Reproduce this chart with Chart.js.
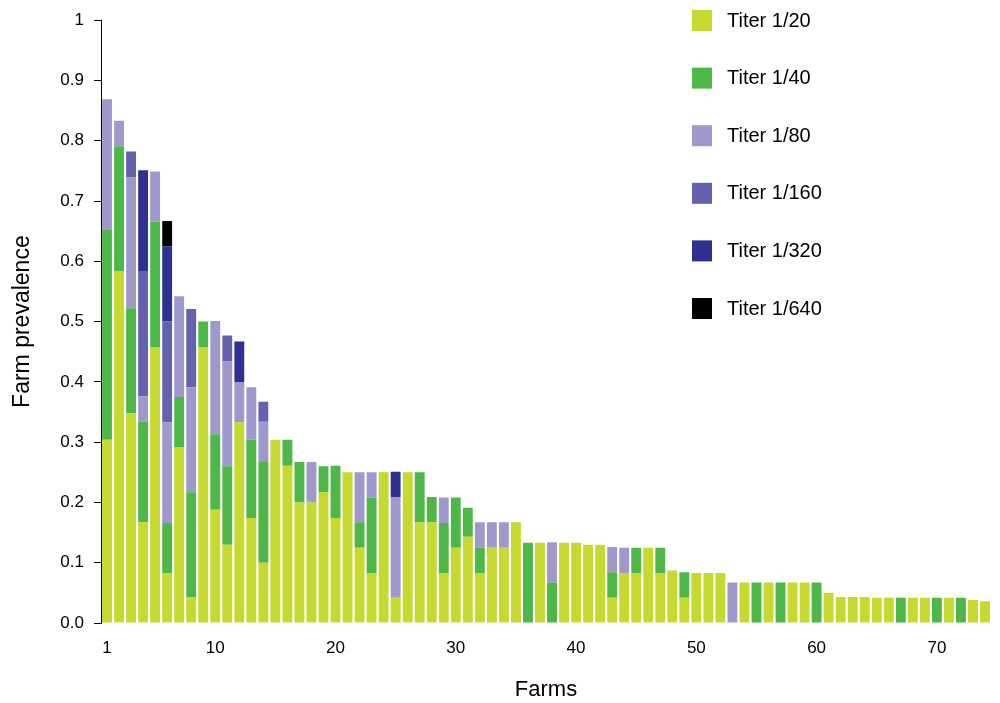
<!DOCTYPE html>
<html>
<head>
<meta charset="utf-8">
<script src="https://cdn.jsdelivr.net/npm/chart.js@4.4.1/dist/chart.umd.min.js"></script>
<style>
  body { margin: 0; background: #fff; }
  canvas { display: block; }
</style>
</head>
<body>
<canvas id="prevalenceChart" width="1000" height="703"></canvas>
<script>
// Farms 1..74
const farms = Array.from({ length: 74 }, (_, i) => String(i + 1));

const titerLabels = ['Titer 1/20', 'Titer 1/40', 'Titer 1/80', 'Titer 1/160', 'Titer 1/320', 'Titer 1/640'];
const titerColors = ['#c5d92e', '#4db848', '#9e98cc', '#6461ad', '#2e3192', '#000000'];

// prevalence per titer, one value per farm
const titer20 = [
  0.304, 0.583, 0.348, 0.167, 0.458, 0.083, 0.292, 0.043, 0.458, 0.188,
  0.130, 0.333, 0.174, 0.100, 0.304, 0.261, 0.200, 0.200, 0.217, 0.174,
  0.250, 0.125, 0.083, 0.250, 0.042, 0.250, 0.167, 0.167, 0.083, 0.125,
  0.143, 0.083, 0.125, 0.125, 0.167, 0,     0.133, 0,     0.133, 0.133,
  0.130, 0.130, 0.042, 0.083, 0.083, 0.125, 0.083, 0.087, 0.042, 0.083,
  0.083, 0.083, 0,     0.067, 0,     0.067, 0,     0.067, 0.067, 0,
  0.050, 0.043, 0.043, 0.043, 0.042, 0.042, 0,     0.042, 0.042, 0,
  0.042, 0,     0.038, 0.036
];
const titer40 = [
  0.348, 0.208, 0.174, 0.167, 0.208, 0.083, 0.083, 0.174, 0.042, 0.125,
  0.130, 0,     0.130, 0.167, 0,     0.043, 0.067, 0,     0.043, 0.087,
  0,     0.042, 0.125, 0,     0,     0,     0.083, 0.042, 0.083, 0.083,
  0.048, 0.042, 0,     0,     0,     0.133, 0,     0.067, 0,     0,
  0,     0,     0.042, 0,     0.042, 0,     0.042, 0,     0.042, 0,
  0,     0,     0,     0,     0.067, 0,     0.067, 0,     0,     0.067,
  0,     0,     0,     0,     0,     0,     0.042, 0,     0,     0.042,
  0,     0.042, 0,     0
];
const titer80 = [
  0.217, 0.042, 0.217, 0.042, 0.083, 0.167, 0.167, 0.174, 0,     0.188,
  0.174, 0.067, 0.087, 0.067, 0,     0,     0,     0.067, 0,     0,
  0,     0.083, 0.042, 0,     0.167, 0,     0,     0,     0.042, 0,
  0,     0.042, 0.042, 0.042, 0,     0,     0,     0.067, 0,     0,
  0,     0,     0.042, 0.042, 0,     0,     0,     0,     0,     0,
  0,     0,     0.067, 0,     0,     0,     0,     0,     0,     0,
  0,     0,     0,     0,     0,     0,     0,     0,     0,     0,
  0,     0,     0,     0
];
const titer160 = [
  0,     0,     0.043, 0.208, 0,     0.167, 0,     0.130, 0,     0,
  0.043, 0,     0,     0.033, 0,     0,     0,     0,     0,     0,
  0,     0,     0,     0,     0,     0,     0,     0,     0,     0,
  0,     0,     0,     0,     0,     0,     0,     0,     0,     0,
  0,     0,     0,     0,     0,     0,     0,     0,     0,     0,
  0,     0,     0,     0,     0,     0,     0,     0,     0,     0,
  0,     0,     0,     0,     0,     0,     0,     0,     0,     0,
  0,     0,     0,     0
];
const titer320 = [
  0,     0,     0,     0.167, 0,     0.125, 0,     0,     0,     0,
  0,     0.067, 0,     0,     0,     0,     0,     0,     0,     0,
  0,     0,     0,     0,     0.042, 0,     0,     0,     0,     0,
  0,     0,     0,     0,     0,     0,     0,     0,     0,     0,
  0,     0,     0,     0,     0,     0,     0,     0,     0,     0,
  0,     0,     0,     0,     0,     0,     0,     0,     0,     0,
  0,     0,     0,     0,     0,     0,     0,     0,     0,     0,
  0,     0,     0,     0
];
const titer640 = [
  0,     0,     0,     0,     0,     0.042, 0,     0,     0,     0,
  0,     0,     0,     0,     0,     0,     0,     0,     0,     0,
  0,     0,     0,     0,     0,     0,     0,     0,     0,     0,
  0,     0,     0,     0,     0,     0,     0,     0,     0,     0,
  0,     0,     0,     0,     0,     0,     0,     0,     0,     0,
  0,     0,     0,     0,     0,     0,     0,     0,     0,     0,
  0,     0,     0,     0,     0,     0,     0,     0,     0,     0,
  0,     0,     0,     0
];

const yTicks = [0, 0.1, 0.2, 0.3, 0.4, 0.5, 0.6, 0.7, 0.8, 0.9, 1];
const xTickFarms = ['1', '10', '20', '30', '40', '50', '60', '70'];

const FONT = 'Arial, "Liberation Sans", Helvetica, sans-serif';

// legend stacked in a column at the top right
const titerLegend = {
    id: 'titerLegend',
    afterDraw(chart) {
        const ctx = chart.ctx;
        ctx.save();
        ctx.font = '20px ' + FONT;
        ctx.textBaseline = 'middle';
        ctx.textAlign = 'left';
        chart.data.datasets.forEach((ds, i) => {
            const top = 10 + i * 57.6;
            ctx.fillStyle = ds.backgroundColor;
            ctx.fillRect(692, top, 20, 21);
            ctx.fillStyle = '#000';
            ctx.fillText(ds.label, 727, top + 11);
        });
        ctx.restore();
    }
};

const seriesData = [titer20, titer40, titer80, titer160, titer320, titer640];

new Chart(document.getElementById('prevalenceChart').getContext('2d'), {
    type: 'bar',
    data: {
        labels: farms,
        datasets: seriesData.map((values, i) => ({
            label: titerLabels[i],
            data: values,
            backgroundColor: titerColors[i],
            borderWidth: 0,
            barPercentage: 0.82,
            categoryPercentage: 1.0
        }))
    },
    options: {
        responsive: false,
        animation: false,
        devicePixelRatio: 1,
        layout: { padding: { top: 10, right: 2, left: 0, bottom: 0 } },
        plugins: {
            legend: { display: false },
            tooltip: { enabled: false }
        },
        scales: {
            x: {
                stacked: true,
                grid: { display: false, drawTicks: false },
                border: { display: false },
                ticks: {
                    autoSkip: false,
                    maxRotation: 0,
                    padding: 15,
                    color: '#000',
                    font: { family: FONT, size: 17 },
                    callback: function(value, index) {
                        const f = farms[index];
                        return xTickFarms.includes(f) ? f : '';
                    }
                },
                title: {
                    display: true,
                    text: 'Farms',
                    color: '#000',
                    font: { family: FONT, size: 22 },
                    padding: { top: 0, bottom: 0 }
                },
                afterFit: function(scale) { scale.height = 80; }
            },
            y: {
                stacked: true,
                min: 0,
                max: 1,
                afterBuildTicks: function(scale) {
                    scale.ticks = yTicks.map(v => ({ value: v }));
                },
                grid: {
                    drawOnChartArea: false,
                    drawTicks: true,
                    tickLength: 7,
                    color: '#000'
                },
                border: { display: true, color: '#000', width: 1 },
                ticks: {
                    padding: 10,
                    color: '#000',
                    font: { family: FONT, size: 17 },
                    callback: function(value) {
                        return Math.abs(value - 1) < 1e-9 ? '1' : value.toFixed(1);
                    }
                },
                title: {
                    display: true,
                    text: 'Farm prevalence',
                    color: '#000',
                    font: { family: FONT, size: 23 },
                    padding: { top: 9, bottom: 0 }
                },
                afterFit: function(scale) { scale.width = 101; }
            }
        }
    },
    plugins: [titerLegend]
});
</script>
</body>
</html>
